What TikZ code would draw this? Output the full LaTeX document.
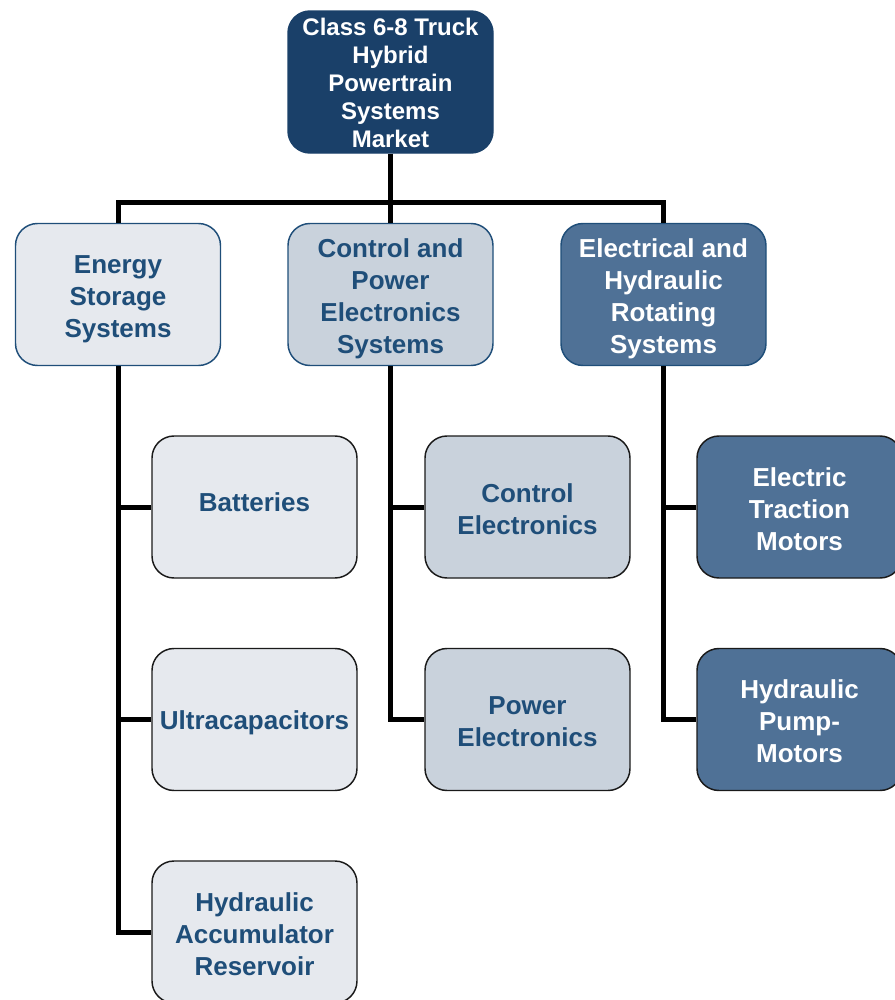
\documentclass[tikz,border=0pt]{standalone}
\usepackage{fontspec}
\setmainfont{Liberation Sans}
\definecolor{navy}{HTML}{1A4069}
\definecolor{txtblue}{HTML}{1F4E79}
\definecolor{lightfill}{HTML}{E6E9EE}
\definecolor{midfill}{HTML}{C9D2DC}
\definecolor{bluefill}{HTML}{4F7196}
\definecolor{edgegray}{HTML}{1A1A1A}
\newcommand{\boxlines}[2]{\raisebox{-#1}[\height][\depth]{\begin{tabular}{@{}c@{}}#2\end{tabular}}}
\begin{document}
\begin{tikzpicture}[x=0.75pt,y=-0.75pt,
  box/.style={rectangle, rounded corners=16.5pt, minimum width=153.75pt, minimum height=106.5pt,
    align=center, inner sep=0pt, line width=1.1pt, font=\fontsize{19.5}{24}\selectfont\bfseries},
  rootbox/.style={box, fill=navy, draw=navy, text=white, font=\fontsize{18}{21}\selectfont\bfseries},
  lightbox/.style={box, fill=lightfill, draw=txtblue, text=txtblue},
  midbox/.style={box, fill=midfill, draw=txtblue, text=txtblue},
  bluebox/.style={box, fill=bluefill, draw=txtblue, text=white},
  lightchild/.style={box, fill=lightfill, draw=edgegray, text=txtblue},
  midchild/.style={box, fill=midfill, draw=edgegray, text=txtblue},
  bluechild/.style={box, fill=bluefill, draw=edgegray, text=white},
  link/.style={line width=3.75pt, black}]
\clip (0,0) rectangle (895,1000);
\useasboundingbox (0,0) rectangle (895,1000);

\node[rootbox] (root) at (390.5,82) {\boxlines{3pt}{Class 6-8 Truck\\Hybrid\\Powertrain\\Systems\\Market}};

\node[lightbox] (ess) at (118,294.5) {\boxlines{3.75pt}{Energy\\Storage\\Systems}};
\node[midbox] (cpe) at (390.5,294.5) {\boxlines{3.75pt}{Control and\\Power\\Electronics\\Systems}};
\node[bluebox] (ehr) at (663.5,294.5) {\boxlines{3.75pt}{Electrical and\\Hydraulic\\Rotating\\Systems}};

\node[lightchild] (bat) at (254.5,507) {\boxlines{-1.5pt}{Batteries}};
\node[lightchild] (ult) at (254.5,719.5) {\boxlines{3pt}{Ultracapacitors}};
\node[lightchild] (hac) at (254.5,932) {\boxlines{3.75pt}{Hydraulic\\Accumulator\\Reservoir}};

\node[midchild] (ce) at (527.5,507) {\boxlines{3.75pt}{Control\\Electronics}};
\node[midchild] (pe) at (527.5,719.5) {\boxlines{3.75pt}{Power\\Electronics}};

\node[bluechild] (etm) at (799.5,507) {\boxlines{3.75pt}{Electric\\Traction\\Motors}};
\node[bluechild] (hpm) at (799.5,719.5) {\boxlines{3.75pt}{Hydraulic\\Pump-\\Motors}};

\coordinate (bus) at (390.5,202);

\draw[link] (root.south) -- (bus);
\draw[link] (ess.north) |- (bus) -| (ehr.north);
\draw[link] (bus) -- (cpe.north);

\draw[link] (ess.south) |- (hac.west);
\draw[link] (bat.west) -- (bat.west -| ess.south);
\draw[link] (ult.west) -- (ult.west -| ess.south);

\draw[link] (cpe.south) |- (pe.west);
\draw[link] (ce.west) -- (ce.west -| cpe.south);

\draw[link] (ehr.south) |- (hpm.west);
\draw[link] (etm.west) -- (etm.west -| ehr.south);
\end{tikzpicture}
\end{document}
